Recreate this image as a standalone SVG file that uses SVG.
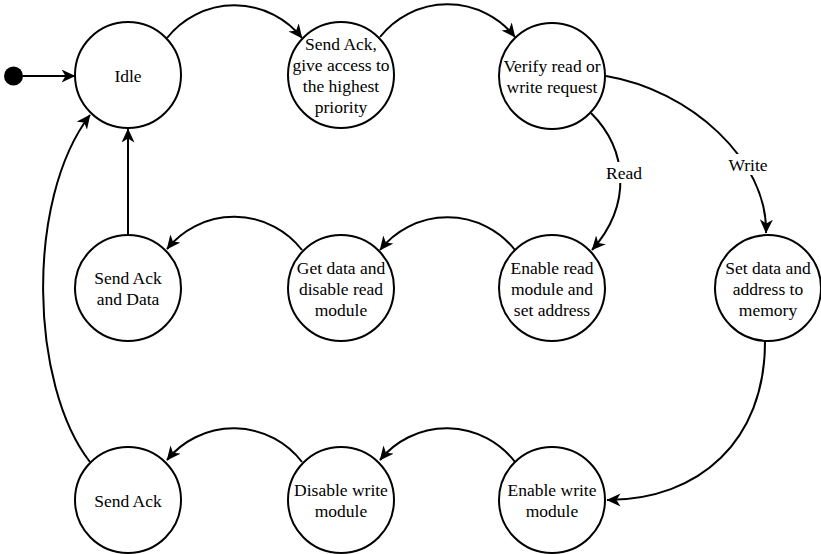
<svg xmlns="http://www.w3.org/2000/svg" width="821" height="554" viewBox="0 0 821 554">
  <style>
    .state { fill: #ffffff; stroke: #000000; stroke-width: 2; }
    .label { font-family: "Liberation Serif", "Times New Roman", serif; font-size: 17.5px; fill: #000000; text-anchor: middle; }
    .edge { fill: none; stroke: #000000; stroke-width: 2; marker-end: url(#arrow); }
    .tag-bg { fill: #ffffff; }
  </style>
  <defs>
    <marker id="arrow" markerUnits="userSpaceOnUse" markerWidth="15" markerHeight="14" refX="13.5" refY="6.5" orient="auto">
      <path d="M0,0 L14,6.5 L0,13 L4,6.5 Z" fill="#000000"/>
    </marker>
  </defs>

  <rect width="821" height="554" fill="#ffffff"/>

  <!-- transitions -->
  <g id="connectors">
    <path class="edge" d="M23,76 L75,76"/>
    <path class="edge" d="M167,38 A86,86 0 0 1 302,38"/>
    <path class="edge" d="M380,37 A86,86 0 0 1 515,37"/>
    <path class="edge" d="M591,113 C628,150 632,205 592,250"/>
    <path class="edge" d="M606,76 C690,90 768,160 766,233"/>
    <path class="edge" d="M515,250 A86,86 0 0 0 380,250"/>
    <path class="edge" d="M302,250 A86,86 0 0 0 167,249"/>
    <path class="edge" d="M128,235 L128,129"/>
    <path class="edge" d="M765,342 C765,440 700,500 607,500"/>
    <path class="edge" d="M515,462 A86,86 0 0 0 380,460"/>
    <path class="edge" d="M302,462 A86,86 0 0 0 167,460"/>
    <path class="edge" d="M90,462 C30,385 25,200 90,115"/>
    <rect class="tag-bg" x="605" y="162" width="38" height="21"/>
    <text class="label" x="624" y="179">Read</text>
    <rect class="tag-bg" x="727" y="154" width="42" height="21"/>
    <text class="label" x="748" y="171">Write</text>
  </g>

  <!-- initial pseudo-state -->
  <g id="start">
    <circle cx="13.5" cy="76" r="9.5" fill="#000000"/>
  </g>

  <g id="idle">
    <circle class="state" cx="128" cy="75" r="53"/>
    <text class="label" x="128" y="82">Idle</text>
  </g>

  <g id="grant">
    <circle class="state" cx="341" cy="75" r="53"/>
    <text class="label" x="341" y="50">Send Ack,</text>
    <text class="label" x="341" y="71">give access to</text>
    <text class="label" x="341" y="92">the highest</text>
    <text class="label" x="341" y="113">priority</text>
  </g>

  <g id="verify">
    <circle class="state" cx="552" cy="76" r="53"/>
    <text class="label" x="552" y="72">Verify read or</text>
    <text class="label" x="552" y="93">write request</text>
  </g>

  <g id="set-data">
    <circle class="state" cx="768" cy="288" r="53"/>
    <text class="label" x="768" y="273.5">Set data and</text>
    <text class="label" x="768" y="294.5">address to</text>
    <text class="label" x="768" y="315.5">memory</text>
  </g>

  <g id="enable-read">
    <circle class="state" cx="552" cy="288" r="53"/>
    <text class="label" x="552" y="273.5">Enable read</text>
    <text class="label" x="552" y="294.5">module and</text>
    <text class="label" x="552" y="315.5">set address</text>
  </g>

  <g id="get-data">
    <circle class="state" cx="341" cy="288" r="53"/>
    <text class="label" x="341" y="273.5">Get data and</text>
    <text class="label" x="341" y="294.5">disable read</text>
    <text class="label" x="341" y="315.5">module</text>
  </g>

  <g id="send-ack-data">
    <circle class="state" cx="128" cy="288" r="53"/>
    <text class="label" x="128" y="284">Send Ack</text>
    <text class="label" x="128" y="305">and Data</text>
  </g>

  <g id="enable-write">
    <circle class="state" cx="552" cy="500" r="53"/>
    <text class="label" x="552" y="496">Enable write</text>
    <text class="label" x="552" y="517">module</text>
  </g>

  <g id="disable-write">
    <circle class="state" cx="341" cy="500" r="53"/>
    <text class="label" x="341" y="496">Disable write</text>
    <text class="label" x="341" y="517">module</text>
  </g>

  <g id="send-ack">
    <circle class="state" cx="128" cy="500" r="53"/>
    <text class="label" x="128" y="507">Send Ack</text>
  </g>
</svg>
